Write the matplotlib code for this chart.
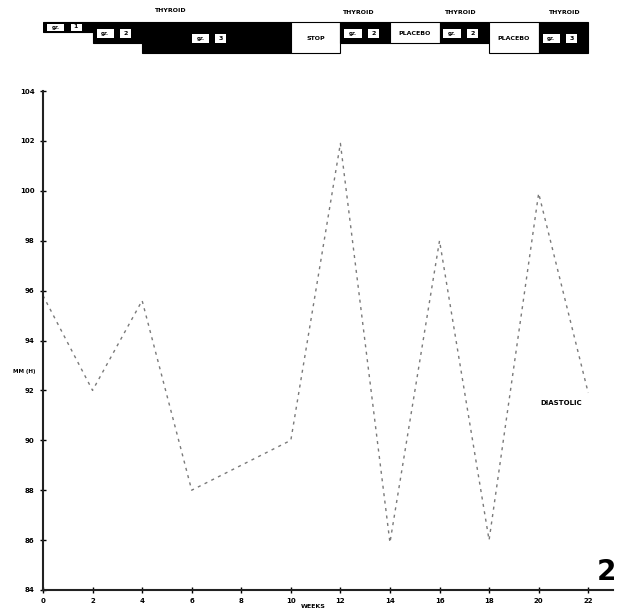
import matplotlib.pyplot as plt
from matplotlib.patches import Rectangle

# diastolic pressure by week
weeks = [0, 2, 4, 6, 10, 12, 14, 16, 18, 20, 22]
diastolic = [95.8, 92.0, 95.6, 88.0, 90.0, 101.9, 85.9, 98.0, 86.0, 99.9, 91.9]

# treatment schedule (start week, end week, dose level, label, black?)
seg_start = [0, 2, 4, 10, 12, 14, 16, 18, 20]
seg_end = [2, 4, 10, 12, 14, 16, 18, 20, 22]
seg_level = [1, 2, 3, 3, 2, 2, 2, 3, 3]
seg_label = ['1', '2', '3', 'STOP', '2', 'PLACEBO', '2', 'PLACEBO', '3']
seg_dark = [True, True, True, False, True, False, True, False, True]
thyroid_x = [5.1, 12.7, 16.8, 21.0]

yticks = list(range(84, 105, 2))
xticks = list(range(0, 23, 2))

W, H = 617, 613
fig = plt.figure(figsize=(W / 100, H / 100), dpi=100)

ax = fig.add_axes([43 / W, 1 - 590 / H, 570 / W, 499 / H])
ax.plot(weeks, diastolic, ls=(0, (2.2, 3.2)), color='#7a7a7a', lw=1.0)
ax.set_xlim(0, 23)
ax.set_ylim(84, 104)
ax.set_xticks(xticks)
ax.set_yticks(yticks)
ax.tick_params(direction='inout', length=4, width=1, labelsize=5, pad=4)
for lab in ax.get_xticklabels() + ax.get_yticklabels():
    lab.set_fontweight('bold')
for s in ['top', 'right']:
    ax.spines[s].set_visible(False)
for s in ['left', 'bottom']:
    ax.spines[s].set_linewidth(1.5)
    ax.spines[s].set_color('#222222')

ax.text(20.9, 91.5, 'DIASTOLIC', fontsize=5, fontweight='bold', ha='center', va='center')
fig.text(313 / W, 1 - 606 / H, 'WEEKS', fontsize=4.5, fontweight='bold', ha='center', va='center')
fig.text(24 / W, 1 - 371 / H, 'MM (H)', fontsize=4, fontweight='bold', ha='center', va='center')
fig.text(606 / W, 1 - 572 / H, '2', fontsize=20, fontweight='bold', ha='center', va='center')

# treatment bar at the top
tx = fig.add_axes([43 / W, 1 - 60 / H, 570 / W, 60 / H])
tx.set_xlim(0, 23)
tx.set_ylim(60, 0)
tx.axis('off')
top = 22
bottoms = {1: 32, 2: 43, 3: 53}
for a, b, lv, lab, dark in zip(seg_start, seg_end, seg_level, seg_label, seg_dark):
    bot = bottoms[lv]
    tx.add_patch(Rectangle((a, top), b - a, bot - top,
                           facecolor='black' if dark else 'white',
                           edgecolor='black', lw=0.8))
    mid = (top + bot) / 2 + (1 if lv > 1 else 0)
    if dark:
        h = 7 if lv == 1 else 9
        x0 = a + 0.08 * (b - a) if b - a <= 2 else a + 2.0
        tx.add_patch(Rectangle((x0, mid - h / 2), 0.7, h,
                               facecolor='white', edgecolor='none'))
        tx.text(x0 + 0.35, mid, 'gr.', fontsize=4, fontweight='bold', ha='center', va='center')
        tx.add_patch(Rectangle((x0 + 0.95, mid - h / 2), 0.45, h,
                               facecolor='white', edgecolor='none'))
        tx.text(x0 + 1.17, mid, lab, fontsize=4.5, fontweight='bold', ha='center', va='center')
    else:
        tx.text((a + b) / 2, mid, lab, fontsize=4.5, fontweight='bold', ha='center', va='center')

for i, x in enumerate(thyroid_x):
    tx.text(x, 10 if i == 0 else 12, 'THYROID', fontsize=4.5, fontweight='bold',
            ha='center', va='center')

fig.savefig('out.png', dpi=100)
